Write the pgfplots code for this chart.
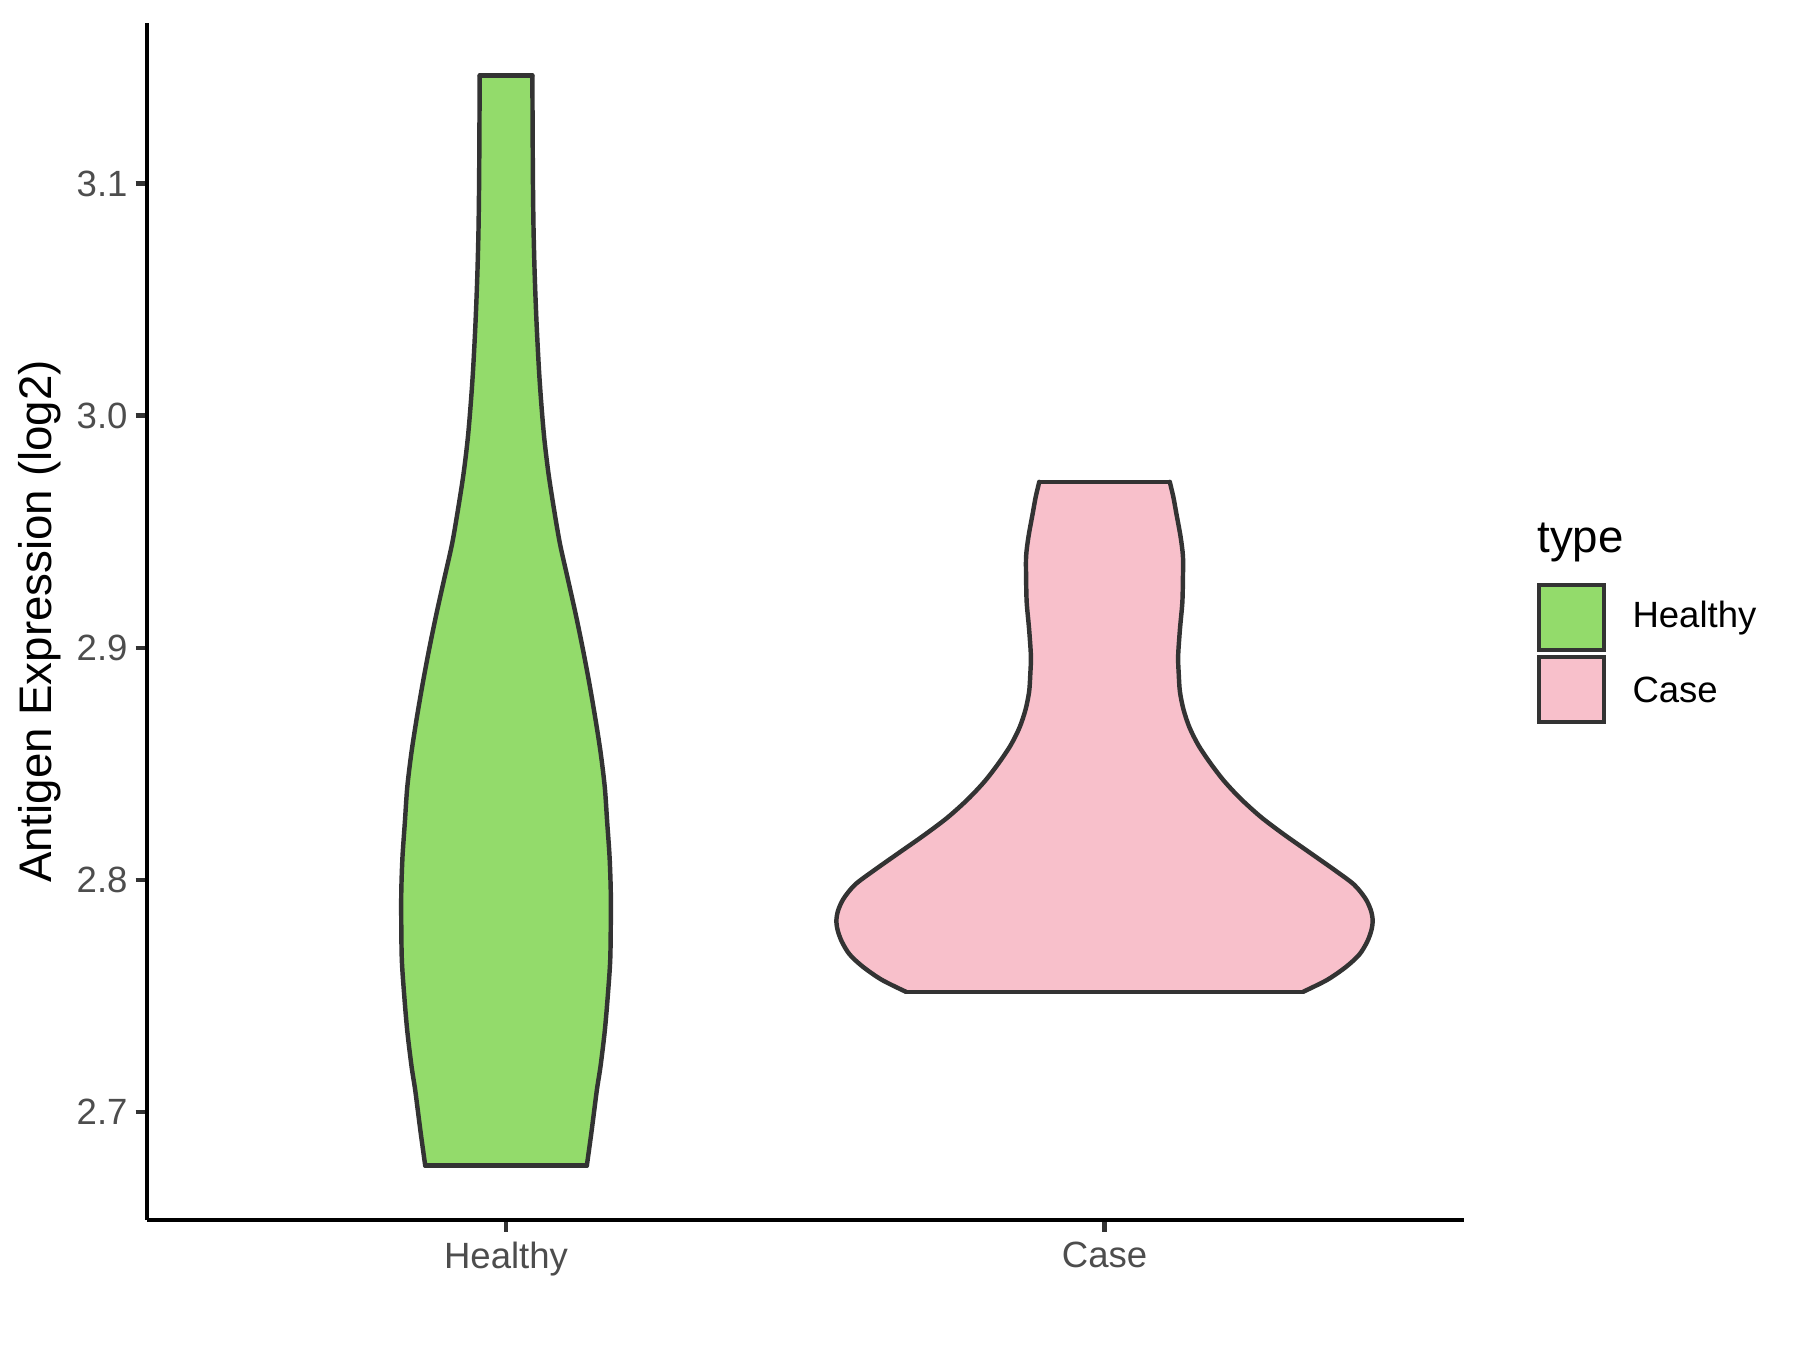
\documentclass[border=0pt]{standalone}
\usepackage{fontspec}
\setmainfont{Liberation Sans}
\usepackage{pgfplots}
\usepackage{pgfplotstable}
\usepgfplotslibrary{fillbetween}
\pgfplotsset{compat=1.18}
\definecolor{healthyfill}{RGB}{147,219,107}
\definecolor{casefill}{RGB}{248,192,203}
\definecolor{outline}{RGB}{51,51,51}
\definecolor{ticktext}{RGB}{77,77,77}

% violin outlines: y and half-width w (x units)
\pgfplotstableread{
y      w
2.677  0.135
2.69   0.142
2.70   0.147
2.71   0.152
2.72   0.158
2.735  0.165
2.75   0.170
2.765  0.174
2.78   0.175
2.795  0.175
2.81   0.173
2.825  0.169
2.84   0.165
2.855  0.158
2.87   0.149
2.885  0.139
2.90   0.128
2.915  0.116
2.93   0.103
2.945  0.090
2.96   0.080
2.975  0.071
2.99   0.064
3.005  0.059
3.02   0.055
3.04   0.051
3.06   0.048
3.08   0.046
3.10   0.045
3.12   0.0445
3.1465 0.044
}\healthy

\pgfplotstableread{
y      w
2.7519 0.332
2.757  0.372
2.7627 0.404
2.768  0.426
2.7735 0.439
2.7785 0.446
2.7827 0.448
2.787  0.445
2.792  0.436
2.798  0.417
2.8042 0.385
2.812  0.342
2.8196 0.300
2.827  0.262
2.8349 0.228
2.8426 0.200
2.8503 0.177
2.858  0.157
2.8657 0.142
2.8734 0.132
2.8811 0.126
2.8888 0.124
2.8964 0.123
2.908  0.126
2.9195 0.130
2.93   0.131
2.9395 0.131
2.948  0.127
2.9579 0.120
2.965  0.115
2.9715 0.109
}\case

\begin{document}
\begin{tikzpicture}
\begin{axis}[
  scale only axis,
  width=11.148cm, height=10.137cm,
  xmin=0.4, xmax=2.6,
  ymin=2.6535, ymax=3.1692,
  axis lines*=left,
  axis line style={-, black, line width=1.07pt},
  xtick={1,2}, xticklabels={Healthy,Case},
  ytick={2.7,2.8,2.9,3.0,3.1},
  tick align=outside,
  major tick length=2.75pt,
  tick style={outline, line width=1.07pt},
  ticklabel style={font=\fontsize{8.8}{10.5}\selectfont, text=ticktext},
  xticklabel style={yshift=1pt},
  yticklabel style={xshift=1.6pt, /pgf/number format/.cd, fixed, fixed zerofill, precision=1, assume math mode=true},
  ylabel={Antigen Expression (log2)},
  ylabel style={font=\fontsize{11}{13}\selectfont, at={(axis description cs:-0.0811,0.5)}, anchor=center},
  violin/.style={draw=outline, line width=1.07pt, line cap=round, smooth, tension=0.5},
]
% Healthy (centre x=1)
\addplot[violin, name path=HR] table[x expr=1+\thisrow{w}, y=y] {\healthy};
\addplot[violin, name path=HL] table[x expr=1-\thisrow{w}, y=y] {\healthy};
\addplot[healthyfill] fill between[of=HL and HR, reverse=true];
\addplot[draw=outline, line width=1.07pt, line cap=round] coordinates {(0.865,2.677) (1.135,2.677)};
\addplot[draw=outline, line width=1.07pt, line cap=round] coordinates {(0.956,3.1465) (1.044,3.1465)};
% Case (centre x=2)
\addplot[violin, name path=CR] table[x expr=2+\thisrow{w}, y=y] {\case};
\addplot[violin, name path=CL] table[x expr=2-\thisrow{w}, y=y] {\case};
\addplot[casefill] fill between[of=CL and CR, reverse=true];
\addplot[draw=outline, line width=1.07pt, line cap=round] coordinates {(1.668,2.7519) (2.332,2.7519)};
\addplot[draw=outline, line width=1.07pt, line cap=round] coordinates {(1.891,2.9715) (2.109,2.9715)};
\end{axis}
% legend
\node[anchor=base west, inner sep=0pt, font=\fontsize{11}{13}\selectfont] at (11.766cm,5.650cm) {type};
\draw[fill=healthyfill, draw=outline, line width=1.07pt] (11.784cm,5.376cm) rectangle (12.335cm,4.826cm);
\draw[fill=casefill, draw=outline, line width=1.07pt] (11.784cm,4.770cm) rectangle (12.335cm,4.220cm);
\node[anchor=west, inner sep=0pt, font=\fontsize{8.8}{10.5}\selectfont] at (12.571cm,5.097cm) {Healthy};
\node[anchor=west, inner sep=0pt, font=\fontsize{8.8}{10.5}\selectfont] at (12.571cm,4.490cm) {Case};
\path (-1.244cm,-1.098cm) rectangle (13.996cm,10.331cm);
\end{tikzpicture}
\end{document}
